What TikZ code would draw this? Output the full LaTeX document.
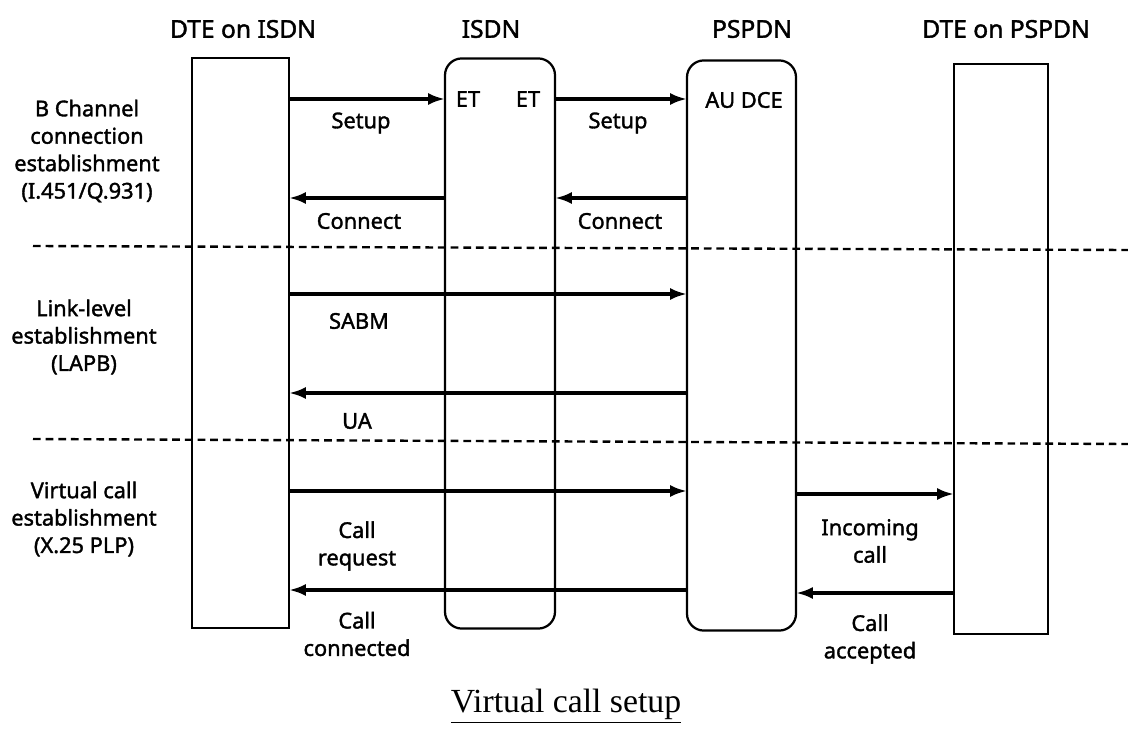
\documentclass[tikz,border=0pt]{standalone}
\usepackage{fontspec}
\setmainfont{Noto Sans}[FakeBold=1.6]
\newfontfamily\captionserif{Liberation Serif}
\usepackage{tikz}
\usetikzlibrary{arrows.meta}
\tikzset{>={Latex[length=12pt,width=8.5pt]}}
\tikzset{
  entity/.style={draw, line width=1.6pt, minimum width=#1, minimum height=14.25cm, inner sep=0pt, outer sep=0pt},
  network/.style={entity=#1, rounded corners=12pt},
  msg/.style={->, line width=2.3pt},
  phase/.style={line width=1.7pt, dash pattern=on 5.5pt off 3.5pt},
  lbl/.style={font=\fontsize{15.5}{19.5}\selectfont, align=center, inner sep=0pt},
  head/.style={font=\fontsize{17.5}{20}\selectfont, inner sep=0pt}
}

\begin{document}
\begin{tikzpicture}[x=0.025cm, y=-0.025cm]

\useasboundingbox (0,0) rectangle (1128,747);

\node[entity=2.425cm] (dteI) at (240.5,343) {};
\node[network=2.75cm] (isdn) at (500,343.5) {};
\node[network=2.725cm] (pspdn) at (741.5,345.5) {};
\node[entity=2.35cm] (dteP) at (1001,349) {};

\node[head] (hdteI) at (243,29) {DTE on ISDN};
\node[head] (hisdn) at (491,29) {ISDN};
\node[head] (hpspdn) at (752,29) {PSPDN};
\node[head] (hdteP) at (1006,29) {DTE on PSPDN};

\node[lbl] (etA) at (468,99) {ET};
\node[lbl] (etB) at (528,99) {ET};
\node[lbl] (audce) at (744,100) {AU DCE};

\node[lbl] (phaseB) at (87,151) {B Channel\\connection\\establishment\\(I.451/Q.931)};
\node[lbl] (phaseL) at (84,337) {Link-level\\establishment\\(LAPB)};
\node[lbl] (phaseV) at (84,519) {Virtual call\\establishment\\(X.25 PLP)};

\draw[phase] (33,246) -- (1128,250);
\draw[phase] (33,439) -- (1128,444);

\draw[msg] (dteI.east |- 0,99) -- (isdn.west |- 0,99);
\node[lbl] (setupA) at (361,123) {Setup};
\draw[msg] (isdn.east |- 0,99) -- (pspdn.west |- 0,99);
\node[lbl] (setupB) at (618,123) {Setup};

\draw[msg] (isdn.west |- 0,198) -- (dteI.east |- 0,198);
\node[lbl] (connA) at (359,221) {Connect};
\draw[msg] (pspdn.west |- 0,198) -- (isdn.east |- 0,198);
\node[lbl] (connB) at (620,221) {Connect};

\draw[msg] (dteI.east |- 0,294) -- (pspdn.west |- 0,294);
\node[lbl] (sabm) at (359,321) {SABM};
\draw[msg] (pspdn.west |- 0,393) -- (dteI.east |- 0,393);
\node[lbl] (ua) at (357,421) {UA};

\draw[msg] (dteI.east |- 0,491) -- (pspdn.west |- 0,491);
\node[lbl] (callreq) at (357,546) {Call\\request};
\draw[msg] (pspdn.east |- 0,494) -- (dteP.west |- 0,494);
\node[lbl] (incall) at (870,541) {Incoming\\call};

\draw[msg] (pspdn.west |- 0,590) -- (dteI.east |- 0,590);
\node[lbl] (callcon) at (357,634) {Call\\connected};
\draw[msg] (dteP.west |- 0,593) -- (pspdn.east |- 0,593);
\node[lbl] (callacc) at (870,639) {Call\\accepted};

\node[font=\captionserif\fontsize{24}{28}\selectfont] (caption) at (566,706) {\underline{Virtual call setup}};

\end{tikzpicture}
\end{document}
